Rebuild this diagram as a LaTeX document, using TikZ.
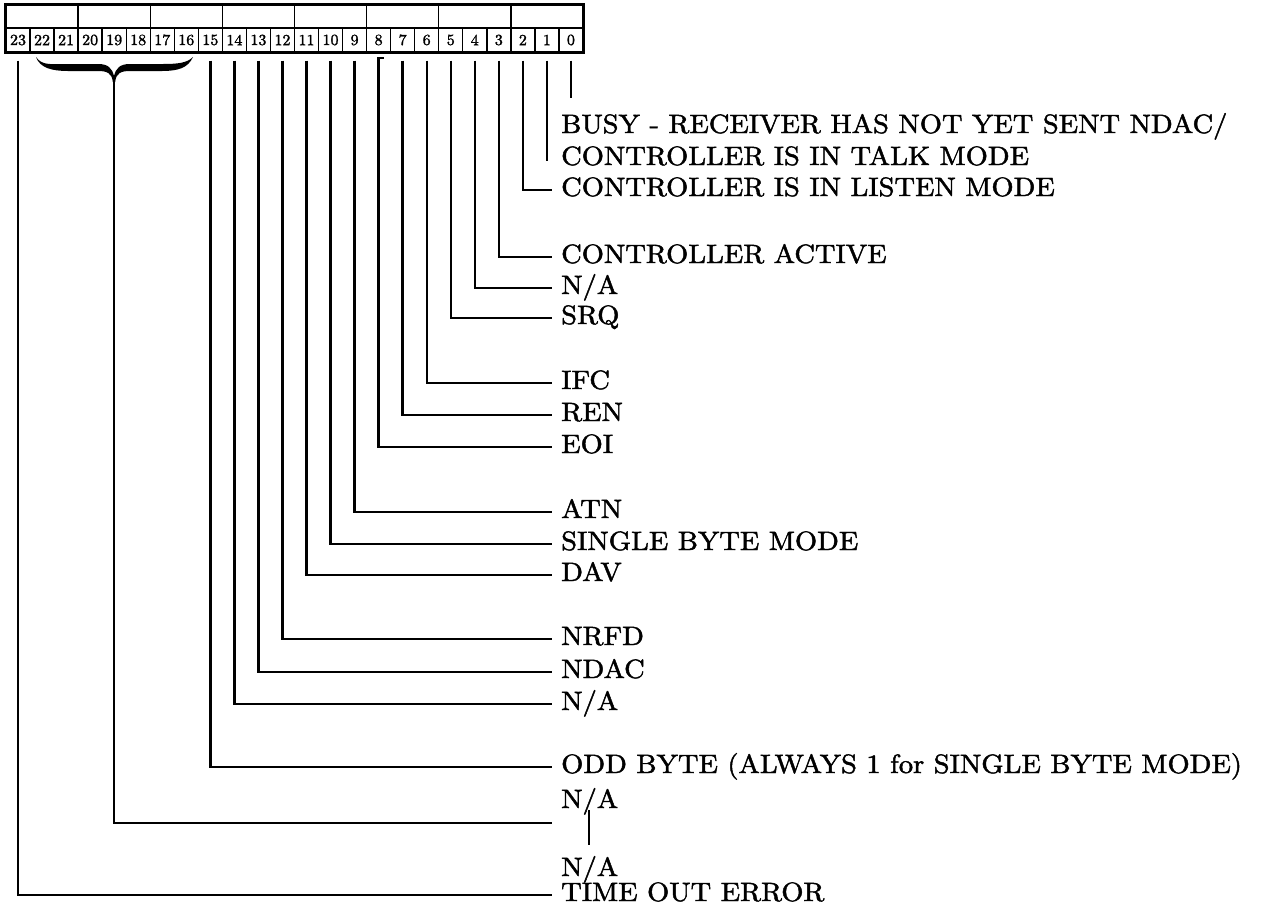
\documentclass[tikz,border=0pt]{standalone}
\usepackage{graphicx}
\usetikzlibrary{calc}
\font\lblfont="[lmroman10-regular]:mapping=tex-text;embolden=1.6" at 10pt
\newcommand\mylbl[1]{\scalebox{2.85}[2.65]{\lblfont #1}}
\newcommand\mynum[1]{\scalebox{1.6}[1.55]{\lblfont #1}}
\begin{document}
\begin{tikzpicture}[x=1pt,y=-1pt,
  cell/.style={draw,line width=1.4pt,minimum width=24.04pt,minimum height=24pt,inner sep=0pt},
  grp/.style={draw,line width=1.4pt,minimum width=72.12pt,minimum height=23pt,inner sep=0pt},
  lbl/.style={anchor=west,inner sep=0pt,text height=12pt,text depth=0pt},
  wire/.style={line width=2.4pt,line cap=butt,line join=miter},
]
\useasboundingbox (0,0) rectangle (1269,906);
\fill[white] (0,0) rectangle (1269,906);
% register
\foreach \b in {0,...,23} \node[cell] (c\b) at ({6+(23-\b+0.5)*24.04},40) {\mynum{\b}};
\foreach \g in {0,...,7} \node[grp] (g\g) at ({6+(7-\g+0.5)*72.12},16.5) {};
\draw[line width=2.6pt] (g7.north west) rectangle (c0.south east);
% labels
\node[lbl] (l0) at (561,127) {\mylbl{BUSY - RECEIVER HAS NOT YET SENT NDAC/}};
\node[lbl] (l1) at (561,159) {\mylbl{CONTROLLER IS IN TALK MODE}};
\node[lbl] (l2) at (561,190) {\mylbl{CONTROLLER IS IN LISTEN MODE}};
\node[lbl] (l3) at (561,257) {\mylbl{CONTROLLER ACTIVE}};
\node[lbl] (l4) at (561,288) {\mylbl{N/A}};
\node[lbl] (l5) at (561,318) {\mylbl{SRQ}};
\node[lbl] (l6) at (561,383) {\mylbl{IFC}};
\node[lbl] (l7) at (561,415) {\mylbl{REN}};
\node[lbl] (l8) at (561,447) {\mylbl{EOI}};
\node[lbl] (l9) at (561,512) {\mylbl{ATN}};
\node[lbl] (l10) at (561,544) {\mylbl{SINGLE BYTE MODE}};
\node[lbl] (l11) at (561,575) {\mylbl{DAV}};
\node[lbl] (l12) at (561,639) {\mylbl{NRFD}};
\node[lbl] (l13) at (561,672) {\mylbl{NDAC}};
\node[lbl] (l14) at (561,704) {\mylbl{N/A}};
\node[lbl] (l15) at (561,767) {\mylbl{ODD BYTE (ALWAYS 1 for SINGLE BYTE MODE)}};
\node[lbl] (na1) at (561,802) {\mylbl{N/A}};
\node[lbl] (na2) at (561,870) {\mylbl{N/A}};
\node[lbl] (l23) at (561,895) {\mylbl{TIME OUT ERROR}};
% connectors
\coordinate (e0) at ($(c0.south)+(0,45)$);
\coordinate (e1) at ($(c1.south)+(0,108)$);
\draw[wire] ([yshift=-8pt]c0.south) -- (e0);
\draw[wire] ([yshift=-8pt]c1.south) -- (e1);
\foreach \b in {2,3,4,5,6,7,9,10,11,12,13,14,15,23}
  \draw[wire] ([yshift=-8pt]c\b.south) |- ([xshift=-9pt]l\b.west);
\draw[wire] ([xshift=5pt,yshift=-5pt]c8.south) -- ([yshift=-5pt]c8.south) |- ([xshift=-9pt]l8.west);
% brace
\fill (36,57) .. controls (42,66) and (52,64) .. (68,64) -- (98,64)
  .. controls (108,64) and (112,68) .. (114,76)
  .. controls (116,68) and (120,64) .. (130,64) -- (162,64)
  .. controls (178,64) and (187,63) .. (193,57)
  .. controls (188,68) and (178,71) .. (162,71) -- (130,71)
  .. controls (121,71) and (116,73) .. (115.2,82) -- (112.8,82)
  .. controls (112,73) and (107,71) .. (98,71) -- (68,71)
  .. controls (52,71) and (40,68) .. (36,57) -- cycle;
\coordinate (bstem) at (114,80);
\coordinate (bend) at ($(na1.west)+(-9,21)$);
\draw[wire] (bstem) |- (bend);
\coordinate (t1) at ($(na1.west)+(28,8)$);
\coordinate (t2) at ($(na2.west)+(28,-25)$);
\draw[line width=2pt] (t1) -- (t2);
\end{tikzpicture}
\end{document}
